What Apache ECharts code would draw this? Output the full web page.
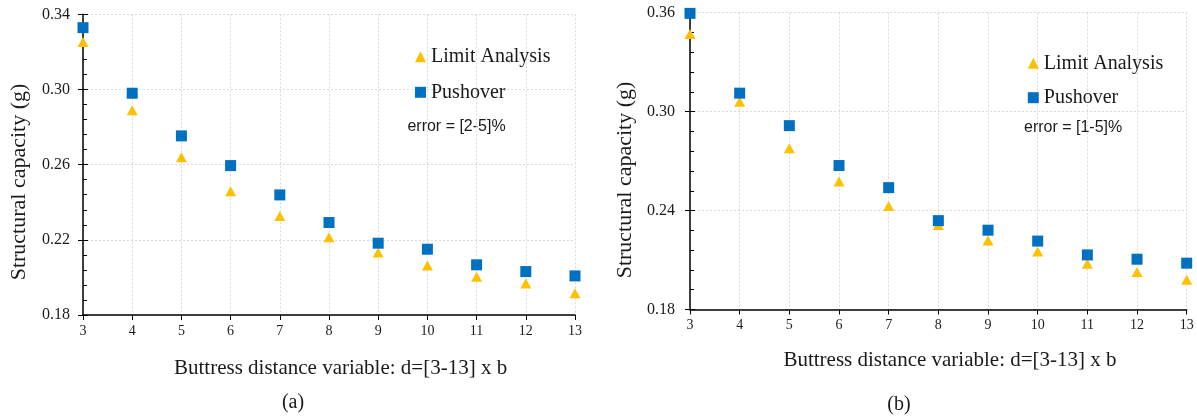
<!DOCTYPE html>
<html><head><meta charset="utf-8">
<script src="https://cdn.jsdelivr.net/npm/echarts@6/dist/echarts.min.js"></script>
<style>html,body{margin:0;padding:0;background:#fff}#c{width:1197px;height:418px}</style>
</head><body><div id="c"></div>
<script>
var distances = [3,4,5,6,7,8,9,10,11,12,13];
var limitA = [0.3253,0.289,0.264,0.2458,0.2327,0.2214,0.2132,0.2063,0.2004,0.1967,0.1916];
var pushA  = [0.3329,0.298,0.2753,0.2595,0.2439,0.2292,0.2182,0.215,0.2067,0.2031,0.2008];
var limitB = [0.3471,0.306,0.2778,0.2576,0.2428,0.2313,0.2218,0.2152,0.2077,0.2028,0.198];
var pushB  = [0.3596,0.3112,0.2915,0.2673,0.2539,0.2339,0.2281,0.2215,0.2131,0.2105,0.2081];
var seriesNames = ['Limit Analysis','Pushover'];
var errorTexts = ['error = [2-5]%','error = [1-5]%'];
var panelLabels = ['(a)','(b)'];
var xName = 'Buttress distance variable: d=[3-13] x b';
var yName = 'Structural capacity (g)';

function pairs(ys){return distances.map(function(d,i){return [d,ys[i]];});}
var SERIF = '"Liberation Serif","Times New Roman",serif';
var TXT = '#1a1a1a';
var grid = [
  {left:83, top:14.3, width:492, height:300.7},
  {left:690, top:12.7, width:496.7, height:296.8}
];
var yRanges = [{min:0.18,max:0.34,interval:0.04},{min:0.18,max:0.36,interval:0.06}];
var splitStyle = {show:true, lineStyle:{color:'#d9d9d9', type:[2,2], width:1}};
var xAxes = [0,1].map(function(g){return {
  type:'value', gridIndex:g, min:3, max:13, interval:1,
  axisLine:{lineStyle:{color:'#000',width:1.5}},
  axisTick:{show:true,length:5,lineStyle:{color:'#000'}},
  axisLabel:{margin:9,color:TXT,fontFamily:SERIF,fontSize:14},
  splitLine:splitStyle
};});
var yAxes = [];
[0,1].forEach(function(g){
  var r = yRanges[g];
  yAxes.push({type:'value', gridIndex:g, min:r.min, max:r.max, interval:r.interval,
    axisLine:{show:true,lineStyle:{color:'#000',width:1.5}},
    axisTick:{show:true,length:5,lineStyle:{color:'#000'}},
    axisLabel:{margin:g===0?13:15,color:TXT,fontFamily:SERIF,fontSize:16,formatter:function(v){return v.toFixed(2);}},
    splitLine:splitStyle});
  yAxes.push({type:'value', gridIndex:g, min:r.min, max:r.max, interval:r.interval, position:'left',
    axisLine:{show:false},
    axisTick:{show:true,inside:true,length:5,lineStyle:{color:'#000'}},
    minorTick:{show:true,splitNumber:5,length:4,lineStyle:{color:'#000'}},
    axisLabel:{show:false}, splitLine:{show:false}});
});
function sc(name,g,ys,isTri){
  return {type:'scatter', name:name, xAxisIndex:g, yAxisIndex:g*2, data:pairs(ys),
    symbol:isTri?'triangle':'rect', symbolSize:isTri?[11,10]:11,
    itemStyle:{color:isTri?'#FFC000':'#0070C0', opacity:1},
    z:isTri?2:3};
}
var legendPos = [{left:410, top:41.7, itemGap:15.6},{left:1022.8, top:48.3, itemGap:14.4}];
var legends = legendPos.map(function(p){return {
  orient:'vertical', left:p.left, top:p.top, itemGap:p.itemGap, itemWidth:11, itemHeight:11, itemTextGap:5,
  data:[{name:seriesNames[0],icon:'triangle'},{name:seriesNames[1],icon:'rect'}],
  textStyle:{fontFamily:SERIF,fontSize:20,color:TXT}, selectedMode:false
};});
var texts = [
  {x:407.4,y:126.7,t:errorTexts[0],font:'16px "Liberation Sans",Arial,sans-serif',align:'left'},
  {x:1024,y:127.3,t:errorTexts[1],font:'16px "Liberation Sans",Arial,sans-serif',align:'left'},
  {x:340.6,y:368,t:xName,font:'21px '+SERIF,align:'center'},
  {x:950,y:360,t:xName,font:'21px '+SERIF,align:'center'},
  {x:293,y:403,t:panelLabels[0],font:'20px '+SERIF,align:'center'},
  {x:899,y:405,t:panelLabels[1],font:'20px '+SERIF,align:'center'}
];
var graphic = texts.map(function(o){return {type:'text', x:o.x, y:o.y,
  style:{text:o.t, font:o.font, fill:TXT, textAlign:o.align, textVerticalAlign:'middle'}};});
graphic.push({type:'text', x:19, y:182, rotation:Math.PI/2, style:{text:yName, font:'22px '+SERIF, fill:TXT, textAlign:'center', textVerticalAlign:'middle'}});
graphic.push({type:'text', x:625.6, y:180, rotation:Math.PI/2, style:{text:yName, font:'22px '+SERIF, fill:TXT, textAlign:'center', textVerticalAlign:'middle'}});

var chart = echarts.init(document.getElementById('c'));
chart.setOption({
  animation:false, backgroundColor:'#fff',
  grid:grid, xAxis:xAxes, yAxis:yAxes, legend:legends, graphic:graphic,
  series:[sc(seriesNames[0],0,limitA,true), sc(seriesNames[1],0,pushA,false),
          sc(seriesNames[0],1,limitB,true), sc(seriesNames[1],1,pushB,false)]
});
</script></body></html>
